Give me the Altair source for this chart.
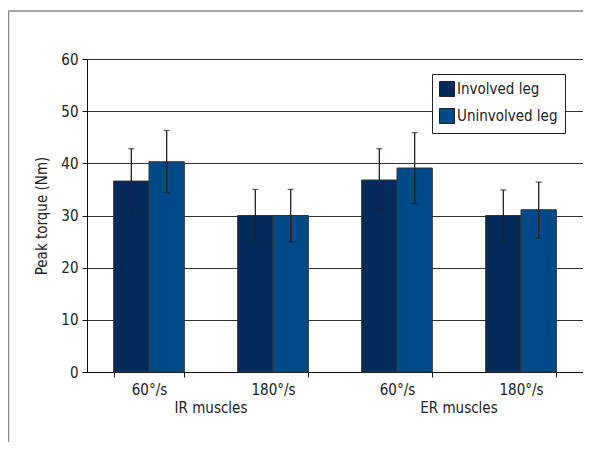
import altair as alt
import pandas as pd

# ---- data ----
categories = ["IR muscles|60°/s", "IR muscles|180°/s", "ER muscles|60°/s", "ER muscles|180°/s"]
groups = ["IR muscles", "ER muscles"]
legs = ["Involved leg", "Uninvolved leg"]
involved = [36.6, 30.0, 36.8, 30.0]
uninvolved = [40.3, 30.0, 39.1, 31.1]
involved_lo = [30.4, 24.9, 31.0, 25.1]
involved_hi = [42.8, 35.0, 42.8, 34.9]
uninvolved_lo = [34.4, 24.9, 32.3, 25.7]
uninvolved_hi = [46.3, 35.0, 45.9, 36.4]
y_ticks = [0, 10, 20, 30, 40, 50, 60]
colors = ["#022b5b", "#014a8a"]

rows = []
for i, c in enumerate(categories):
    rows.append({"cat": c, "leg": legs[0], "v": involved[i], "lo": involved_lo[i], "hi": involved_hi[i]})
    rows.append({"cat": c, "leg": legs[1], "v": uninvolved[i], "lo": uninvolved_lo[i], "hi": uninvolved_hi[i]})
df = pd.DataFrame(rows)
gdf = pd.DataFrame({"group": groups})

FONT = "Liberation Sans Narrow, DejaVu Sans Condensed, sans-serif"
FS = 15
W, H = 496, 313

x = alt.X("cat:N", sort=categories, title=None,
          scale=alt.Scale(paddingInner=0.43, paddingOuter=0.215),
          axis=alt.Axis(labelExpr="split(datum.label, '|')[1]", labelAngle=0,
                        tickBand="extent", tickSize=5, labelPadding=5,
                        labelFontSize=FS, labelColor="#222", domainColor="#111",
                        tickColor="#111", labelFont=FONT))
xo = alt.XOffset("leg:N", sort=legs, scale=alt.Scale(paddingInner=0, paddingOuter=0))
y = alt.Y("v:Q", title="Peak torque (Nm)",
          scale=alt.Scale(domain=[0, 60], nice=False),
          axis=alt.Axis(values=y_ticks, tickSize=5, labelPadding=4, labelFontSize=FS,
                        labelColor="#222", labelFont=FONT, titleFont=FONT, titleFontSize=FS,
                        titleFontWeight="normal", titleColor="#222", titlePadding=11,
                        grid=True, gridColor="#333", gridWidth=1, domainColor="#111",
                        tickColor="#111"))

base = alt.Chart(df)
bars = base.mark_bar(stroke="#333", strokeWidth=1).encode(
    x=x, xOffset=xo, y=y,
    color=alt.Color("leg:N", sort=legs, title=None,
                    scale=alt.Scale(domain=legs, range=colors),
                    legend=alt.Legend(orient="none", legendX=345, legendY=15,
                                      fillColor="white", strokeColor="#222",
                                      padding=7, symbolType="square", symbolSize=225,
                                      symbolStrokeColor="#222", symbolStrokeWidth=1,
                                      symbolOpacity=1,
                                      labelFontSize=FS, labelFont=FONT, labelColor="#222",
                                      rowPadding=7, labelOffset=2)))
errs = base.mark_rule(color="#222", strokeWidth=1.3).encode(
    x=x, xOffset=xo, y="lo:Q", y2="hi:Q")
caps_hi = base.mark_tick(color="#222", thickness=1.3, size=6, orient="horizontal").encode(
    x=x, xOffset=xo, y="hi:Q")
caps_lo = base.mark_tick(color="#222", thickness=1.3, size=6, orient="horizontal").encode(
    x=x, xOffset=xo, y="lo:Q")

main = alt.layer(bars, errs, caps_hi, caps_lo)

group_labels = alt.Chart(gdf).mark_text(font=FONT, fontSize=FS, color="#222",
                                        baseline="top").encode(
    x=alt.X("group:N", sort=groups, scale=alt.Scale(paddingInner=0, paddingOuter=0), axis=None),
    text="group:N",
    y=alt.value(H + 29))

frame_df = pd.DataFrame({"k": [0]})
frame_top = alt.Chart(frame_df).mark_rule(color="#888", strokeWidth=1.5).encode(
    x=alt.value(-78.5), x2=alt.value(W), y=alt.value(-48))
frame_left = alt.Chart(frame_df).mark_rule(color="#888", strokeWidth=1.5).encode(
    x=alt.value(-78.5), y=alt.value(-48), y2=alt.value(H + 72))

chart = alt.layer(main, group_labels, frame_top, frame_left).resolve_scale(
    x="independent"
).properties(
    width=W, height=H,
    autosize=alt.AutoSizeParams(type="none"),
    padding={"left": 79, "top": 51, "right": 0, "bottom": 70},
    background="white",
).configure_view(stroke="#222", strokeWidth=1)

chart.save("out.html", embed_options={"renderer": "svg", "actions": False})
